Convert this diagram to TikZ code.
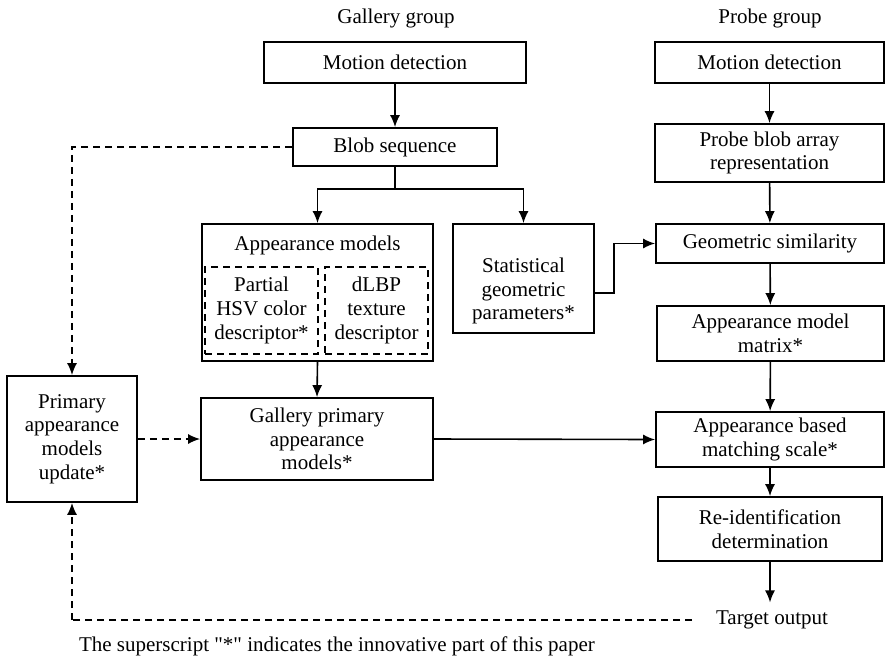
\documentclass[tikz,border=0pt]{standalone}
\usepackage{fontspec}
\setmainfont{Liberation Serif}
\usetikzlibrary{arrows.meta}
\begin{document}
\begin{tikzpicture}[x=0.5pt,y=-0.5pt,
  every node/.style={font=\fontsize{10.5}{11.9}\selectfont, align=center},
  box/.style={draw, line width=0.85pt, inner sep=0pt},
  dbox/.style={draw, line width=0.8pt, inner sep=0pt, dash pattern=on 3.5pt off 2.5pt},
  arr/.style={line width=0.8pt, -{Latex[length=6pt,width=5pt]}},
  darr/.style={line width=0.8pt, dash pattern=on 3.5pt off 2.5pt, -{Latex[length=6pt,width=5pt]}},
  dline/.style={line width=0.8pt, dash pattern=on 3.5pt off 2.5pt},
  ln/.style={line width=0.8pt}]
\useasboundingbox (0,0) rectangle (888,665);
\node (gtitle) at (396,18) {Gallery group};
\node (ptitle) at (770,18) {Probe group};
\node[box, minimum width=131pt, minimum height=20.5pt] (gmd) at (395,62.5) {Motion detection};
\node[box, minimum width=114.5pt, minimum height=20.5pt] (pmd) at (769.5,62.5) {Motion detection};
\node[box, minimum width=102pt, minimum height=19pt] (blob) at (395,147) {Blob sequence};
\node[box, minimum width=114.5pt, minimum height=29pt] (pba) at (769.5,153) {Probe blob array\\representation};
\node[box, minimum width=115.5pt, minimum height=68.5pt] (am) at (317.5,292.5) {};
\node (amtitle) at (317.5,245) {Appearance models};
\node[dbox, minimum width=56.5pt, minimum height=43.5pt] (hsv) at (261.5,310.5) {Partial\\HSV color\\descriptor*};
\node[dbox, minimum width=51.5pt, minimum height=43.5pt] (dlbp) at (376.5,310.5) {dLBP\\texture\\descriptor};
\node[box, minimum width=70.5pt, minimum height=54.5pt] (sgp) at (523.5,278.5) {};
\node (sgptext) at (523.5,291) {Statistical\\geometric\\parameters*};
\node[box, minimum width=114pt, minimum height=19.5pt] (geo) at (770,243.5) {Geometric similarity};
\node[box, minimum width=113.5pt, minimum height=27.5pt] (amm) at (770.5,333.5) {Appearance model\\matrix*};
\node[box, minimum width=114pt, minimum height=27.5pt] (abm) at (770,439.5) {Appearance based\\matching scale*};
\node[box, minimum width=112pt, minimum height=32pt] (reid) at (770,529) {Re-identification\\determination};
\node[inner sep=0pt] (target) at (772,620) {Target output};
\coordinate (tw) at (692,620);
\coordinate (corner) at (72,620);
\node[box, minimum width=65pt, minimum height=63pt] (pamu) at (72,439) {Primary\\appearance\\models\\update*};
\node[box, minimum width=116pt, minimum height=41pt] (gpam) at (317,439) {Gallery primary\\appearance\\models*};
\node[anchor=west] (note) at (72,646) {The superscript \textquotedbl*\textquotedbl{} indicates the innovative part of this paper};
\coordinate (split) at (395,189);
% connectors
\draw[arr] (gmd) -- (blob);
\draw[arr] (pmd) -- (pba);
\draw[ln] (blob.south) -- (split);
\draw[arr] (split) -| (am.north);
\draw[arr] (split) -| (sgp.north);
\draw[arr] ([yshift=-7.25pt]sgp.east) -- ++(19,0) |- (geo.west);
\draw[arr] (pba) -- (geo);
\draw[arr] (geo) -- (amm);
\draw[arr] (amm) -- (abm);
\draw[arr] (abm) -- (reid);
\draw[arr] (reid.south) -- ([yshift=4pt]reid.south |- target.north);
\draw[arr] (am.south) -- (gpam.north);
\draw[arr] (gpam.east) -- (abm.west);
\draw[darr] (blob.west) -| (pamu.north);
\draw[darr] (pamu.east) -- (gpam.west);
\draw[dline] (tw) -- (corner);
\draw[darr] (corner) -- (pamu.south);
\end{tikzpicture}
\end{document}
